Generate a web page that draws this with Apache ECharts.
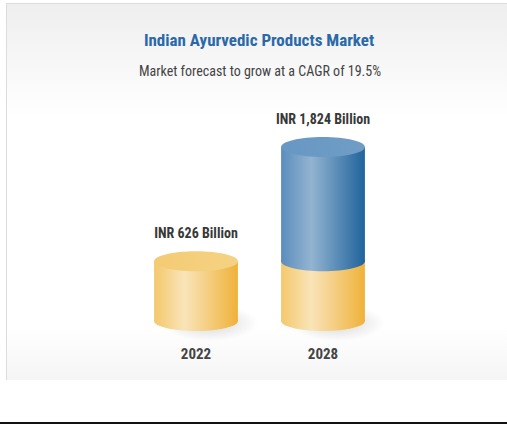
<!DOCTYPE html>
<html>
<head>
<meta charset="utf-8">
<script src="https://cdn.jsdelivr.net/npm/echarts@6/dist/echarts.min.js"></script>
<style>
  html, body { margin: 0; padding: 0; background: #ffffff; }
  #chart { width: 507px; height: 429px; }
</style>
</head>
<body>
<div id="chart"></div>
<script>
// Market size by year (INR billion)
const years = ['2022', '2028'];
const marketSize = [626, 1824];
const baseValue = 626; // 2022 level, shown as the yellow base of each cylinder

const titleText = 'Indian Ayurvedic Products Market';
const subtitleText = 'Market forecast to grow at a CAGR of 19.5%';

const FONT = '"Liberation Sans Narrow", "Roboto Condensed", "DejaVu Sans Condensed", Roboto, sans-serif';

const yellowBody = new echarts.graphic.LinearGradient(0, 0, 1, 0, [
  { offset: 0, color: '#f4c86c' },
  { offset: 0.36, color: '#f9e4b9' },
  { offset: 1, color: '#efb23a' }
]);
const yellowTop = new echarts.graphic.LinearGradient(0, 0, 1, 0, [
  { offset: 0, color: '#f4cb73' },
  { offset: 1, color: '#f5d284' }
]);
const blueBody = new echarts.graphic.LinearGradient(0, 0, 1, 0, [
  { offset: 0, color: '#5a8dbd' },
  { offset: 0.36, color: '#93b4d1' },
  { offset: 1, color: '#20639b' }
]);
const blueTop = new echarts.graphic.LinearGradient(0, 0, 1, 0, [
  { offset: 0, color: '#6797c3' },
  { offset: 1, color: '#6f9dc6' }
]);
const shadowFill = new echarts.graphic.RadialGradient(0.5, 0.5, 0.5, [
  { offset: 0, color: 'rgba(0,0,0,0.16)' },
  { offset: 1, color: 'rgba(0,0,0,0)' }
]);

function cylinderPart(cx, rx, ry, yTop, yBottom, bodyFill) {
  return [
    { type: 'ellipse', shape: { cx: cx, cy: yBottom, rx: rx, ry: ry }, style: { fill: bodyFill } },
    { type: 'rect', shape: { x: cx - rx, y: yTop, width: rx * 2, height: yBottom - yTop }, style: { fill: bodyFill } }
  ];
}

function renderCylinder(params, api) {
  const idx = api.value(0);
  const val = api.value(1);
  const bottom = api.coord([idx, 0]);
  const mid = api.coord([idx, Math.min(val, baseValue)]);
  const top = api.coord([idx, val]);
  const rx = api.size([1, 0])[0] * 0.33;
  const ry = 10;
  const cx = bottom[0];
  const children = [
    { type: 'ellipse', shape: { cx: cx + 14, cy: bottom[1] + 2, rx: rx + 6, ry: ry + 8 }, style: { fill: shadowFill } }
  ];
  children.push.apply(children, cylinderPart(cx, rx, ry, mid[1], bottom[1], yellowBody));
  if (val > baseValue) {
    children.push.apply(children, cylinderPart(cx, rx, ry, top[1], mid[1], blueBody));
    children.push({ type: 'ellipse', shape: { cx: cx, cy: top[1], rx: rx, ry: ry }, style: { fill: blueTop } });
  } else {
    children.push({ type: 'ellipse', shape: { cx: cx, cy: top[1], rx: rx, ry: ry }, style: { fill: yellowTop } });
  }
  children.push({
    type: 'text',
    x: cx,
    y: top[1] - ry - 18,
    style: {
      text: 'INR ' + val.toLocaleString('en-US') + ' Billion',
      fill: '#383838',
      font: 'bold 14px ' + FONT,
      align: 'center',
      verticalAlign: 'middle'
    }
  });
  return { type: 'group', children: children };
}

const chart = echarts.init(document.getElementById('chart'), null, { renderer: 'svg' });

chart.setOption({
  animation: false,
  backgroundColor: '#ffffff',
  graphic: [
    {
      // panel background
      type: 'rect', z: -10, silent: true,
      shape: { x: 6, y: 3, width: 501, height: 377 },
      style: {
        fill: new echarts.graphic.LinearGradient(0, 0, 0, 1, [
          { offset: 0, color: '#eeeeee' },
          { offset: 0.3, color: '#ffffff' },
          { offset: 0.86, color: '#ffffff' },
          { offset: 1, color: '#f5f5f5' }
        ])
      }
    },
    {
      // panel left and top edges
      type: 'polyline', z: -9, silent: true,
      shape: { points: [[6.5, 380], [6.5, 3.5], [507, 3.5]] },
      style: { stroke: '#dcdcdc', lineWidth: 1, fill: null }
    },
    {
      type: 'rect', z: -10, silent: true,
      shape: { x: 0, y: 422, width: 507, height: 2 },
      style: { fill: '#111111' }
    },
    {
      type: 'text', x: 259, y: 40,
      style: { text: titleText, fill: '#2a69a9', font: 'bold 17px ' + FONT, align: 'center', verticalAlign: 'middle' }
    },
    {
      type: 'text', x: 260, y: 71,
      style: { text: subtitleText, fill: '#444444', font: '14px ' + FONT, align: 'center', verticalAlign: 'middle' }
    }
  ],
  grid: { left: 132.5, right: 120.5, top: 92, bottom: 108 },
  xAxis: {
    type: 'category',
    data: years,
    axisLine: { show: false },
    axisTick: { show: false },
    axisLabel: { margin: 25, color: '#444444', fontWeight: 'bold', fontSize: 15, fontFamily: FONT }
  },
  yAxis: { type: 'value', min: 0, max: 2400, show: false, splitLine: { show: false } },
  series: [{
    type: 'custom',
    renderItem: renderCylinder,
    encode: { x: 0, y: 1 },
    data: years.map(function (y, i) { return [i, marketSize[i]]; })
  }]
});
</script>
</body>
</html>
